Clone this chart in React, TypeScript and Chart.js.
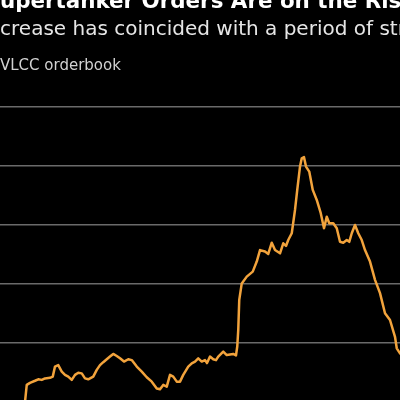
import React, { useEffect, useRef } from "react";
import { Chart, registerables } from "chart.js";

Chart.register(...registerables);

const TITLE = "Supertanker Orders Are on the Rise";
const SUBTITLE = "Increase has coincided with a period of strong";
const UNIT_LABEL = "VLCC orderbook";

// time index (months) and orderbook level
const months = [
  14.0, 14.7, 16.0, 18.0, 19.3, 20.7, 22.0, 24.0, 25.1, 26.0, 27.3, 28.7, 30.0, 31.3, 32.7, 34.0,
  35.3, 36.7, 38.0, 39.3, 41.3, 42.7, 44.0, 45.3, 46.7, 48.0, 49.3, 50.7, 52.0, 53.6, 55.3, 56.7,
  58.7, 60.7, 62.7, 64.7, 66.7, 68.0, 69.3, 70.7, 72.0, 73.3, 74.7, 76.0, 77.3, 79.3, 80.7, 82.0,
  83.3, 84.7, 86.0, 86.8, 88.0, 89.3, 90.4, 91.3, 93.3, 94.7, 96.0, 97.3, 98.4, 98.9, 99.3, 99.7,
  100.7, 102.7, 105.1, 106.7, 108.0, 110.0, 111.3, 112.7, 114.0, 116.0, 117.3, 118.4, 119.3, 120.7,
  122.0, 122.9, 124.0, 124.7, 125.6, 126.4, 127.7, 129.1, 130.7, 132.3, 133.6, 134.7, 135.7, 137.3,
  138.7, 140.0, 141.3, 142.7, 143.7, 144.7, 146.0, 147.3, 148.7, 150.0, 152.0, 154.0, 156.0, 158.0,
  160.0, 162.0, 162.7, 164.0, 165.2,
];
const orderbook = [
  0.0, 5.8, 6.5, 7.2, 7.7, 7.5, 8.0, 8.2, 8.6, 12.0, 12.5, 10.3, 9.2, 8.6, 7.5, 9.2,
  9.9, 9.7, 8.0, 7.7, 8.6, 10.9, 12.5, 13.5, 14.5, 15.4, 16.3, 15.6, 14.8, 13.7, 14.5, 14.2,
  12.0, 10.3, 8.4, 6.9, 4.6, 4.3, 5.8, 5.2, 9.2, 8.6, 6.9, 6.9, 9.2, 12.0, 13.1, 13.7,
  14.8, 13.7, 14.2, 13.2, 15.4, 14.5, 14.2, 15.4, 17.1, 15.9, 16.1, 16.3, 15.8, 18.8, 24.4, 34.6,
  40.2, 42.5, 44.2, 47.6, 51.5, 51.0, 50.2, 54.0, 51.5, 50.4, 53.8, 52.9, 54.9, 57.2,
  65.1, 71.9, 79.8, 82.6, 83.0, 79.8, 78.1, 71.9, 68.5, 64.0, 58.9, 62.8, 60.6, 60.6,
  58.9, 54.3, 54.0, 54.9, 54.3, 57.2, 60.0, 57.2, 54.9, 51.5, 47.6, 41.4, 36.9, 30.1,
  27.8, 22.1, 18.2, 16.5, 15.6,
];
const yTicks = [0, 20, 40, 60, 80, 100];

const textPlugin = {
  id: "headerText",
  afterDraw(chart: any) {
    const ctx = chart.ctx;
    ctx.save();
    ctx.textBaseline = "alphabetic";
    ctx.textAlign = "left";
    ctx.fillStyle = "#ffffff";
    ctx.font = "bold 21.4px 'DejaVu Sans'";
    ctx.fillText(TITLE, 24.5, 8);
    ctx.fillStyle = "#e6e6e6";
    ctx.font = "20px 'DejaVu Sans'";
    ctx.fillText(SUBTITLE, 21.5, 35);
    ctx.fillStyle = "#d2d2d2";
    ctx.font = "15px 'DejaVu Sans'";
    ctx.fillText(UNIT_LABEL, 40, 69.5);
    ctx.restore();
  },
};

export default function App() {
  const ref = useRef<HTMLCanvasElement | null>(null);
  useEffect(() => {
    if (!ref.current) return;
    const chart = new Chart(ref.current, {
      type: "line",
      data: {
        datasets: [
          {
            data: months.map((m, i) => ({ x: m, y: orderbook[i] })),
            borderColor: "#f2a33c",
            borderWidth: 2.5,
            pointRadius: 0,
            tension: 0,
            borderJoinStyle: "round",
            borderCapStyle: "round",
            fill: false,
          },
        ],
      },
      options: {
        animation: false,
        responsive: false,
        maintainAspectRatio: false,
        layout: { padding: { left: 30, right: 10, top: 107, bottom: 18 } },
        plugins: {
          legend: { display: false },
          tooltip: { enabled: false },
          title: { display: false },
        },
        scales: {
          x: { type: "linear", min: 0, max: 176, display: false },
          y: {
            position: "right",
            min: yTicks[0],
            max: yTicks[yTicks.length - 1],
            afterBuildTicks: (axis: any) => {
              axis.ticks = yTicks.map((v) => ({ value: v }));
            },
            ticks: { display: false },
            border: { display: false },
            grid: { color: "#6a6a6a", lineWidth: 1.5, drawTicks: false },
          },
        },
      },
      plugins: [textPlugin],
    });
    return () => chart.destroy();
  }, []);
  return (
    <div
      style={{
        position: "fixed",
        left: 0,
        top: 0,
        width: 400,
        height: 400,
        background: "#000",
        overflow: "hidden",
      }}
    >
      <canvas
        ref={ref}
        width={480}
        height={420}
        style={{ position: "absolute", left: -40, top: 0, width: 480, height: 420, display: "block" }}
      />
    </div>
  );
}
